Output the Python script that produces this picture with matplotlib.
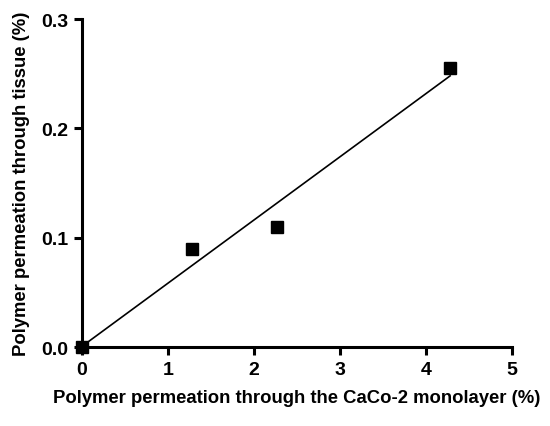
import numpy as np
import matplotlib
matplotlib.use("Agg")
import matplotlib.pyplot as plt

plt.rcParams['font.family'] = ['Liberation Sans', 'DejaVu Sans']
plt.rcParams['font.weight'] = 'bold'

# permeation data (%)
caco2 = [0.0, 1.28, 2.27, 4.28]
tissue = [0.0, 0.09, 0.11, 0.255]

xticks = [0, 1, 2, 3, 4, 5]
yticks = [0.0, 0.1, 0.2, 0.3]

fig = plt.figure(figsize=(5.5, 4.27), dpi=100)
ax = fig.add_axes([0.149, 0.185, 0.782, 0.768])

# linear fit
slope, icpt = np.polyfit(caco2, tissue, 1)
xfit = np.array([min(caco2), max(caco2)])
ax.plot(xfit, slope * xfit + icpt, color="black", lw=1.2, zorder=2)

ax.plot(caco2, tissue, "s", color="black", markersize=9, clip_on=False, zorder=5)

ax.set_xlim(0, 5)
ax.set_ylim(0, 0.3)
ax.set_xticks(xticks)
ax.set_yticks(yticks)
ax.set_xticklabels([str(t) for t in xticks])
ax.set_yticklabels([f"{t:.1f}" for t in yticks])

for s in ["top", "right"]:
    ax.spines[s].set_visible(False)
for s in ["left", "bottom"]:
    ax.spines[s].set_linewidth(2.2)
ax.tick_params(width=2.2, length=6, labelsize=14, pad=4)

ax.set_xlabel("Polymer permeation through the CaCo-2 monolayer (%)", fontsize=13.3, fontweight="bold", labelpad=8)
ax.set_ylabel("Polymer permeation through tissue (%)", fontsize=13.3, fontweight="bold", labelpad=8)

fig.savefig("out.png", dpi=100)
